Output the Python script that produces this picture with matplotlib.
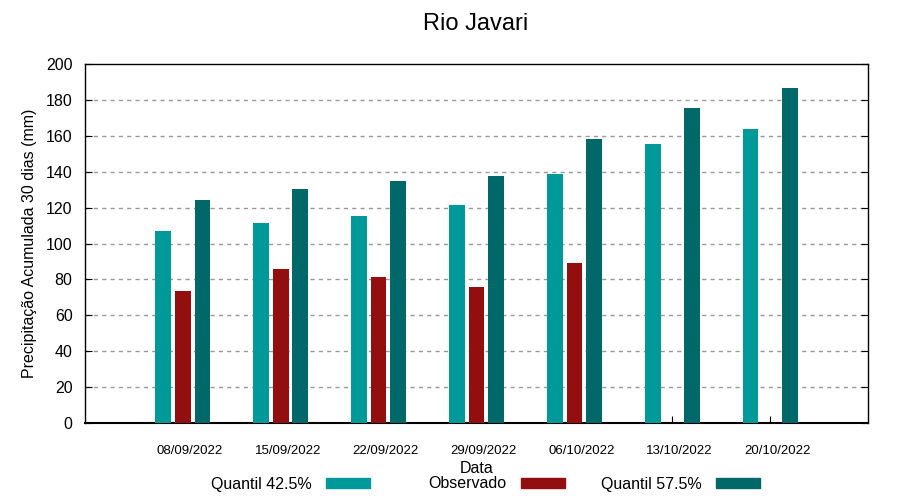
import numpy as np
import matplotlib
matplotlib.use('Agg')
from matplotlib import pyplot as plt
import matplotlib.patches as patches
import matplotlib.transforms as mtransforms

plt.rcParams['font.family'] = ['Liberation Sans', 'DejaVu Sans']

# Datos
datas = ['08/09/2022', '15/09/2022', '22/09/2022', '29/09/2022',
         '06/10/2022', '13/10/2022', '20/10/2022']
quantil_425 = [107.0, 111.4, 115.3, 121.4, 138.7, 155.4, 163.8]
observado = [73.5, 85.8, 81.3, 75.8, 89.1, np.nan, np.nan]
quantil_575 = [124.2, 130.4, 134.8, 137.6, 158.2, 175.5, 186.6]

cor_q1 = '#009999'
cor_obs = '#930e0e'
cor_q2 = '#006868'

fig = plt.figure(figsize=(9, 5), dpi=100)
ax = fig.add_axes([85 / 900, 77 / 500, 783 / 900, 359 / 500])

x = np.arange(len(datas))
w = 0.16
ax.bar(x - 0.2, quantil_425, width=w, color=cor_q1, zorder=3)
ax.bar(x, observado, width=w, color=cor_obs, zorder=3)
ax.bar(x + 0.2, quantil_575, width=w, color=cor_q2, zorder=3)

ax.set_xlim(-1, 7)
ax.set_ylim(0, 200)
ax.set_yticks(np.arange(0, 201, 20))
ax.set_xticks(x)
ax.set_xticklabels(datas, fontsize=9.5)
ax.tick_params(axis='x', direction='in', length=5, pad=16)
ax.tick_params(axis='y', direction='in', length=5, labelsize=11.5, right=True, pad=9)

# etiquetas do eixo x um pouco deslocadas para a direita (como no gnuplot)
desloc = mtransforms.ScaledTranslation(7 / 100, 0, fig.dpi_scale_trans)
for lbl in ax.get_xticklabels():
    lbl.set_transform(lbl.get_transform() + desloc)

# Grade pontilhada
for yv in range(20, 200, 20):
    ax.axhline(yv, color='#999999', lw=1, ls=(0, (3, 3)), zorder=1)

for s in ax.spines.values():
    s.set_linewidth(1)
ax.spines['bottom'].set_linewidth(1.5)

ax.set_ylabel('Precipitação Acumulada 30 dias (mm)', fontsize=11.5, labelpad=6)
ax.set_xlabel('Data', fontsize=11.5, labelpad=0)
ax.xaxis.set_label_coords(0.5, -0.105)
fig.text(0.528, 0.953, 'Rio Javari', ha='center', va='center', fontsize=17)

# Legenda estilo gnuplot: colunas de largura igual, texto alinhado à direita
itens = [('Quantil 42.5%', cor_q1), ('Observado', cor_obs), ('Quantil 57.5%', cor_q2)]
fim_amostra = [370, 565, 760]
for (nome, cor), xf in zip(itens, fim_amostra):
    leg = fig.legend(handles=[patches.Patch(color=cor, label=nome)], loc='center right',
                     bbox_to_anchor=(xf / 900, 0.032), frameon=False, markerfirst=False,
                     fontsize=11.5, handlelength=2.78, handleheight=0.55,
                     handletextpad=0.87, borderpad=0, borderaxespad=0)

fig.savefig('out.png', dpi=100)
